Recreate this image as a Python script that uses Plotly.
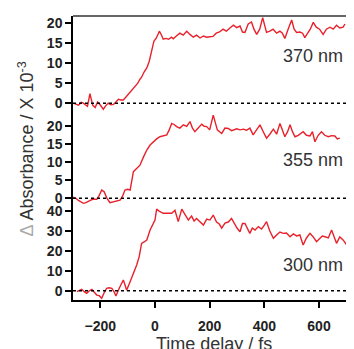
import plotly.graph_objects as go

# ---- data ----
t_370 = [-299,-290,-280,-270,-262,-255,-247,-238,-228,-219,-210,-203,-195,-189,-180,-171,-162,-152,-143,-134,-125,-116,-107,-98,-88,-79,-72,-63,-55,-49,-40,-30,-21,-12,-4,5,16,24,30,40,50,60,67,78,91,103,116,128,140,152,165,177,189,200,212,224,236,249,261,274,287,299,311,320,329,341,353,362,372,383,394,401,408,420,432,445,457,466,475,487,500,509,518,530,540,548,558,568,579,590,602,615,627,640,652,664,676,688,695]
a_370 = [0,-0.3,-0.5,0.2,0,-0.4,-0.8,2.4,-0.5,-1.1,0.3,-0.2,-0.8,-1.5,-0.6,0,-0.4,-0.3,0.3,1.0,0.8,0.8,1.5,2.2,3.0,3.9,4.3,5.0,6.0,6.5,7.8,8.8,10.5,13.5,15.5,16.3,18.0,17.0,16.0,16.2,16.0,16.5,16.1,16.8,17.5,17.0,18.0,17.2,16.5,17.0,16.3,16.8,16.5,16.6,16.7,17.5,17.8,18.5,18.0,18.8,19.5,18.9,19.3,17.8,17.7,19.8,20.3,18.5,17.2,18.5,21.4,19.5,17.7,18.0,18.5,17.5,18.0,17.5,16.2,18.5,20.8,18.5,17.7,17.8,17.5,16.4,17.5,18.5,20.2,19.0,18.5,17.2,18.5,19.0,18.5,19.5,18.8,19.0,19.8]

t_355 = [-299,-290,-280,-271,-262,-253,-244,-235,-225,-213,-204,-195,-186,-177,-165,-155,-146,-137,-128,-119,-110,-100,-91,-79,-67,-55,-42,-30,-18,-6,6,18,30,43,52,61,70,79,91,104,116,128,137,146,158,171,180,189,200,213,228,244,256,268,280,290,299,311,323,335,347,359,372,384,396,408,420,433,445,457,466,475,485,494,503,512,524,533,542,554,567,576,585,597,609,621,634,646,658,667,676]
a_355 = [0.3,0,-0.6,-1.1,-1.4,-1.2,-0.8,-0.5,-0.2,-0.3,0.8,2.3,1.8,0.2,-1.2,-1.0,-0.8,-0.7,-0.5,0.5,2.3,2.5,2.3,7.4,8.3,9.2,11.5,13.4,14.8,15.7,16.5,17.1,17.3,17.6,19.0,20.8,20.5,19.9,19.5,20.4,20.0,21.3,19.5,18.5,19.5,20.6,20.0,19.9,19.0,23.1,19.0,18.0,19.5,19.4,18.8,19.0,19.3,19.0,19.2,18.9,19.5,17.6,19.0,20.4,18.5,16.7,17.8,19.2,17.8,20.8,19.0,17.1,18.5,20.4,18.5,17.1,17.5,18.0,18.5,17.5,17.3,18.5,15.7,17.5,18.5,17.5,17.1,17.4,17.3,16.5,16.7]

t_300 = [-286,-277,-268,-259,-250,-240,-231,-222,-213,-204,-195,-186,-177,-168,-158,-150,-143,-130,-116,-110,-104,-94,-84,-75,-67,-58,-49,-40,-30,-18,-8,0,6,15,30,45,61,73,85,98,110,122,134,143,152,165,177,189,201,213,225,235,244,256,268,280,290,300,311,320,329,338,347,356,366,378,390,400,408,420,433,445,457,469,481,494,506,518,530,542,554,567,579,591,603,612,622,634,646,655,664,676,688,701,710,719,725]
a_300 = [-0.5,0.2,0.7,-0.5,-1.3,0,0.7,-0.8,-2.2,-2.5,-3.8,-1.0,1.2,1.5,1.2,-0.5,-2.7,1.5,5.4,3.0,0.3,3.5,7.0,10.0,12.9,17.0,23.8,24.5,25.5,30.5,33.5,35.5,41.0,40.0,38.9,39.0,38.9,40.4,34.7,41.0,38.5,35.5,37.5,35.0,36.3,34.5,33.0,36.0,35.5,38.0,34.5,33.5,31.4,34.0,34.5,36.3,33.5,31.5,29.6,33.8,33.8,31.0,28.8,31.5,30.5,32.2,31.0,33.0,34.7,30.0,26.3,28.0,29.5,28.8,29.0,27.1,28.5,27.5,28.0,23.0,26.5,28.8,27.0,24.6,26.0,27.5,27.1,26.5,30.5,27.0,23.8,27.0,25.5,23.0,25.5,27.1,25.0]

labels = ["370 nm", "355 nm", "300 nm"]
x_ticks = [-200, 0, 200, 400, 600]
y_ticks = [[0, 5, 10, 15, 20], [0, 5, 10, 15, 20], [0, 10, 20, 30, 40]]
y_ranges = [[-2.2, 21.8], [-2.14, 23.97], [-4.67, 42.56]]
domains = [[0.662, 1.0], [0.331, 0.662], [0.0, 0.331]]
label_val = [11.8, 10.5, 12.9]
x_range = [-300, 728]

RED = "#e8212b"
TXT = "#333333"
tickfont = dict(family="Liberation Sans, Arial", size=14, color="#222222", weight="bold")

fig = go.Figure()
series = [(t_370, a_370), (t_355, a_355), (t_300, a_300)]
for i, (t, a) in enumerate(series):
    ax = "" if i == 0 else str(i + 1)
    fig.add_trace(go.Scatter(x=t, y=a, mode="lines", line=dict(color=RED, width=1.4),
                             xaxis="x" + ax, yaxis="y" + ax, showlegend=False))
    # dotted zero line
    fig.add_shape(type="line", xref="x" + ax, yref="y" + ax, x0=x_range[0], x1=x_range[1],
                  y0=0, y1=0, line=dict(color="black", width=1.5, dash="3px,3px"))
    fig.add_annotation(text=labels[i], xref="x" + ax, yref="y" + ax,
                       x=578, y=label_val[i],
                       showarrow=False, font=dict(family="Liberation Sans, Arial", size=18, color=TXT))

# the page body adds an 8px offset, so the figure is 8px smaller than the window
layout = dict(
    width=346, height=341,
    margin=dict(l=65, r=0, t=8, b=49),
    plot_bgcolor="white", paper_bgcolor="white",
)
for i in range(3):
    ax = "" if i == 0 else str(i + 1)
    layout["xaxis" + ax] = dict(
        range=x_range, domain=[0, 1], anchor="y" + ax, automargin=False,
        showgrid=False, zeroline=False,
        showline=(i == 2), linecolor="black", linewidth=1.5,
        ticks="outside" if i == 2 else "", ticklen=6, tickwidth=1.5, tickcolor="black",
        tickvals=x_ticks, showticklabels=(i == 2), tickfont=tickfont,
        ticklabelstandoff=6,
    )
    layout["yaxis" + ax] = dict(
        range=y_ranges[i], domain=domains[i], anchor="x" + ax, automargin=False,
        showgrid=False, zeroline=False,
        showline=True, linecolor="black", linewidth=1.5,
        ticks="outside", ticklen=6, tickwidth=1.5, tickcolor="black",
        tickvals=y_ticks[i], tickfont=tickfont,
    )
fig.update_layout(**layout)

# top frame line of first panel
fig.add_shape(type="line", xref="paper", yref="paper", x0=0, x1=1, y0=1, y1=1,
              line=dict(color="#333333", width=1.5))

# axis titles
fig.add_annotation(text='<span style="color:#aaaaaa">\u0394</span> Absorbance / X 10<sup>-3</sup>',
                   xref="paper", yref="paper", x=-0.215, y=0.53, textangle=-90,
                   showarrow=False, font=dict(family="Liberation Sans, Arial", size=18, color=TXT))
fig.add_annotation(text="Time delay / fs", xref="paper", yref="paper", x=0.5, y=-0.112,
                   yanchor="top", showarrow=False,
                   font=dict(family="Liberation Sans, Arial", size=18, color=TXT))

fig.write_html("out.html")
